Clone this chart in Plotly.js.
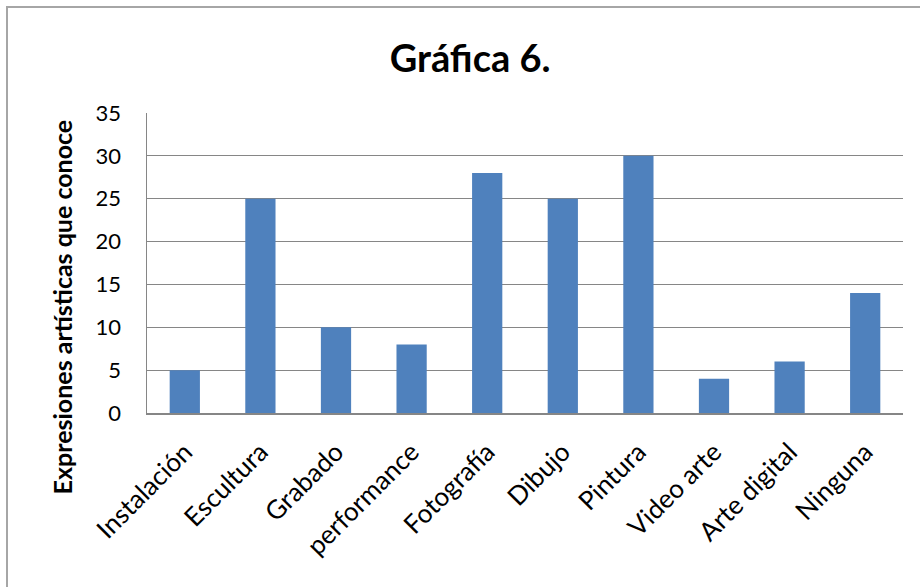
<!DOCTYPE html>
<html>
<head>
<meta charset="utf-8">
<script src="https://cdn.plot.ly/plotly-3.0.1.min.js"></script>
<style>
html,body{margin:0;padding:0;background:#fff;}
#wrap{position:relative;width:920px;height:587px;overflow:hidden;}
#frame{position:absolute;left:6px;top:6px;width:1000px;height:1000px;border:2px solid #a6a6a6;box-sizing:border-box;pointer-events:none;z-index:5;}
#chart{position:absolute;left:0;top:0;width:920px;height:587px;}
</style>
</head>
<body>
<div id="wrap">
<div id="chart"></div>
<div id="frame"></div>
</div>
<script>
const categories = ["Instalación","Escultura","Grabado","performance","Fotografía","Dibujo","Pintura","Video arte","Arte digital","Ninguna"];
const values = [5,25,10,8,28,25,30,4,6,14];
const yTicks = [0,5,10,15,20,25,30,35];
const chartTitle = "Gráfica 6.";
const yTitle = "Expresiones artísticas que conoce";

const font = "Lato, 'Open Sans', 'Noto Sans', sans-serif";

Plotly.newPlot("chart", [{
  type: "bar",
  x: categories,
  y: values,
  width: 0.4,
  marker: {color: "#4F81BD", line: {color: "#4F81BD", width: 0}},
  hoverinfo: "skip"
}], {
  width: 920, height: 587,
  paper_bgcolor: "#fff", plot_bgcolor: "#fff",
  margin: {l: 147, r: 17, t: 113, b: 174, pad: 0},
  showlegend: false,
  title: {text: "<b>" + chartTitle + "</b>", font: {family: font, size: 38, color: "#000"}, x: 0.511, xanchor: "center", y: 0.9, yanchor: "middle"},
  xaxis: {
    type: "category",
    tickangle: -45,
    tickfont: {family: font, size: 26, color: "#000"},
    showline: true, linecolor: "#868686", linewidth: 1.5,
    ticks: "outside", ticklen: 12, tickcolor: "rgba(0,0,0,0)",
    showgrid: false, zeroline: false,
    automargin: false
  },
  yaxis: {
    range: [0, 35],
    tickvals: yTicks,
    ticktext: yTicks.map(String),
    tickfont: {family: font, size: 22, color: "#000"},
    showline: true, linecolor: "#868686", linewidth: 1.5,
    showgrid: true, gridcolor: "#868686", gridwidth: 1,
    zeroline: false,
    ticks: "outside", ticklen: 20, tickcolor: "rgba(0,0,0,0)",
    automargin: false
  },
  annotations: [{
    text: "<b>" + yTitle + "</b>",
    xref: "paper", yref: "paper",
    x: -0.112, y: 0.353,
    textangle: -90,
    showarrow: false,
    font: {family: font, size: 25, color: "#000"},
    xanchor: "center", yanchor: "middle"
  }]
}, {staticPlot: true});
</script>
</body>
</html>
